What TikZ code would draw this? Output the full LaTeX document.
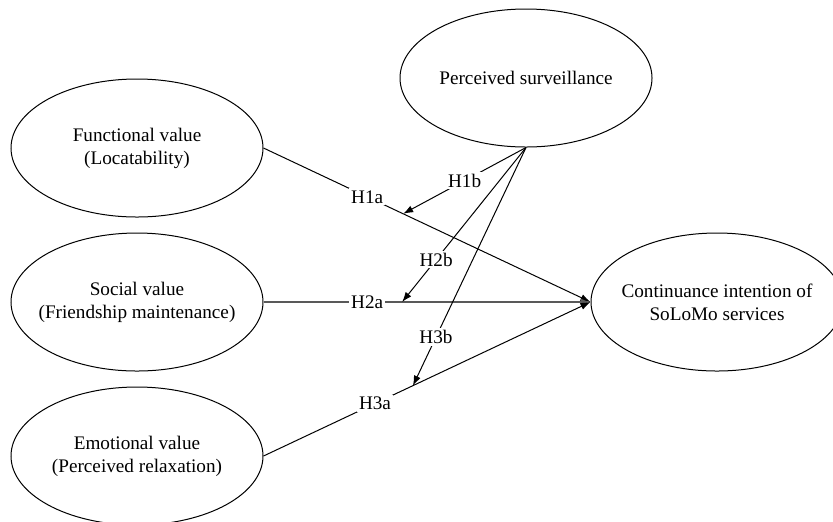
\documentclass[tikz,border=0pt]{standalone}
\usepackage{fontspec}
\setmainfont{Liberation Serif}
\usetikzlibrary{arrows.meta,shapes.geometric}

\begin{document}
\begin{tikzpicture}[x=0.5pt,y=-0.5pt,font=\fontsize{9.6}{11.5}\selectfont]
                \tikzset{construct/.style = {shape=ellipse,draw,line width=0.5pt,minimum width=126pt,minimum height=69pt,inner sep=0pt}}
                \tikzset{path/.style = {->,> = {Latex[length=5pt,width=3.6pt]},line width=0.5pt}}
                \tikzset{hyp/.style = {fill=white,inner sep=1pt}}
                \clip (0,0) rectangle (833,521);
                % constructs
                \node[construct, label={[align=center]center:Functional value\\(Locatability)}] (fv) at (137,148) {};
                \node[construct, label={[align=center]center:Social value\\(Friendship maintenance)}] (sv) at (137,302) {};
                \node[construct, label={[align=center]center:Emotional value\\(Perceived relaxation)}] (ev) at (137,456) {};
                \node[construct, label={[align=center]center:Perceived surveillance}] (ps) at (526,78) {};
                \node[construct, label={[align=center]center:Continuance intention of\\SoLoMo services}] (ci) at (717,302) {};

                % direct effects
                \draw[path] (fv.east) -- node[hyp, pos=0.317] (h1a) {H1a} coordinate[pos=0.427] (t1) (ci.west);
                \draw[path, draw=black!65, line width=0.8pt] (sv.east) -- node[hyp, pos=0.317] (h2a) {H2a} coordinate[pos=0.424] (t2) (ci.west);
                \draw[path] (ev.east) -- node[hyp, pos=0.341] (h3a) {H3a} coordinate[pos=0.457] (t3) (ci.west);

                % moderating effects
                \draw[path] (ps.south) -- node[hyp, pos=0.5] (h1b) {H1b} (t1);
                \draw[path] (ps.south) -- node[hyp, pos=0.726] (h2b) {H2b} (t2);
                \draw[path] (ps.south) -- node[hyp, pos=0.796] (h3b) {H3b} (t3);
            \end{tikzpicture}
\end{document}
